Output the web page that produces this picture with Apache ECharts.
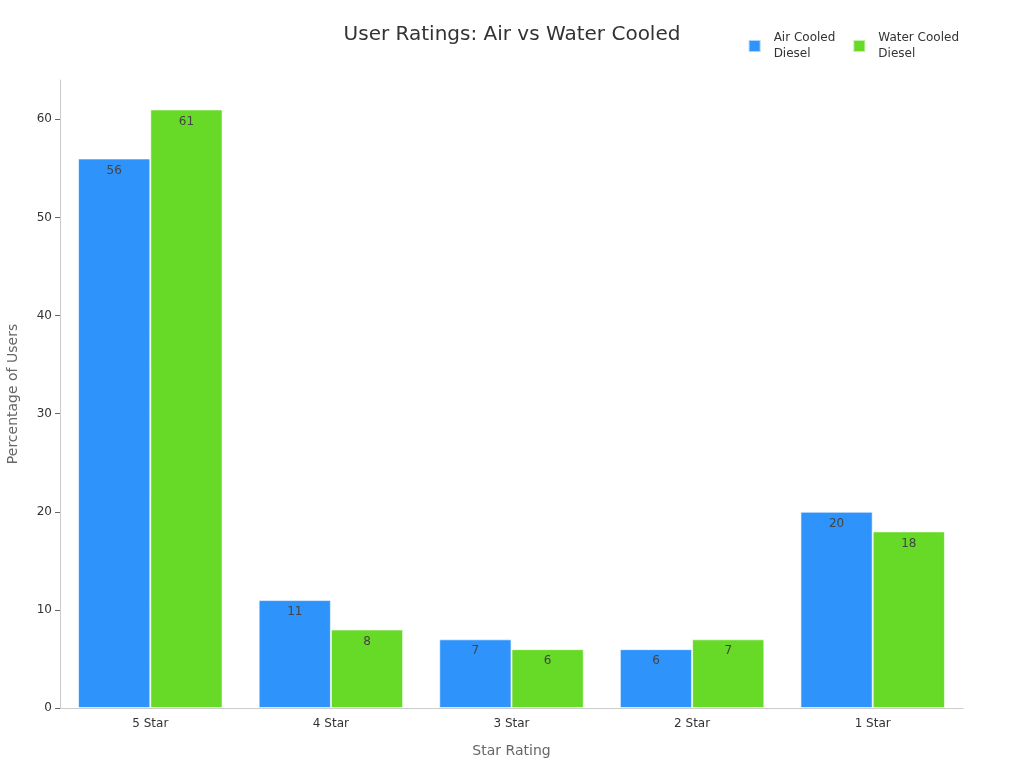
<!DOCTYPE html>
<html>
<head>
<meta charset="utf-8">
<script src="https://cdn.jsdelivr.net/npm/echarts@6/dist/echarts.min.js"></script>
<style>
html,body{margin:0;padding:0;background:#fff;}
#chart{width:1024px;height:768px;}
</style>
</head>
<body>
<div id="chart"></div>
<script>
// data
var categories = ['5 Star', '4 Star', '3 Star', '2 Star', '1 Star'];
var airCooled = [56, 11, 7, 6, 20];
var waterCooled = [61, 8, 6, 7, 18];
var seriesNames = ['Air Cooled\nDiesel', 'Water Cooled\nDiesel'];

var myChart = echarts.init(document.getElementById('chart'));

var labelStyle = {
	show: true,
	position: 'insideTop',
	color: '#444',
	fontSize: 12,
	distance: 6
};

option = {
	textStyle: { fontFamily: 'DejaVu Sans' },
	title: {
		text: 'User Ratings: Air vs Water Cooled',
		left: 'center',
		top: 20,
		textStyle: { fontSize: 20, fontWeight: 'normal', color: '#333', fontFamily: 'DejaVu Sans' }
	},
	legend: {
		right: 60,
		top: 25,
		itemWidth: 12,
		itemHeight: 12,
		itemGap: 17,
		icon: 'rect',
		textStyle: { fontSize: 12, color: '#333', lineHeight: 16, padding: [0, 0, 0, 8] },
		data: seriesNames
	},
	grid: { left: 60, right: 61, top: 80, bottom: 60, outerBoundsMode: 'none' },
	xAxis: {
		type: 'category',
		data: categories,
		name: 'Star Rating',
		nameLocation: 'middle',
		nameGap: 36,
		nameTextStyle: { fontSize: 14, color: '#666' },
		axisLine: { lineStyle: { color: '#ccc' } },
		axisTick: { alignWithLabel: true, lineStyle: { color: '#666' } },
		axisLabel: { color: '#333', fontSize: 12, margin: 10 }
	},
	yAxis: {
		type: 'value',
		min: 0,
		max: 64,
		interval: 10,
		name: 'Percentage of Users',
		nameLocation: 'middle',
		nameGap: 40,
		nameTextStyle: { fontSize: 14, color: '#666' },
		axisLine: { show: true, lineStyle: { color: '#ccc' } },
		axisTick: { show: true, lineStyle: { color: '#666' } },
		axisLabel: { color: '#333', fontSize: 12, showMaxLabel: false },
		splitLine: { show: false }
	},
	series: [
		{
			name: seriesNames[0],
			type: 'bar',
			data: airCooled,
			barGap: '0%',
			barCategoryGap: '20%',
			itemStyle: { color: '#2E93FA', borderColor: 'rgba(255,255,255,0.6)', borderWidth: 1 },
			label: labelStyle
		},
		{
			name: seriesNames[1],
			type: 'bar',
			data: waterCooled,
			itemStyle: { color: '#66DA26', borderColor: 'rgba(255,255,255,0.6)', borderWidth: 1 },
			label: labelStyle
		}
	]
};
myChart.setOption(option);
</script>
</body>
</html>
